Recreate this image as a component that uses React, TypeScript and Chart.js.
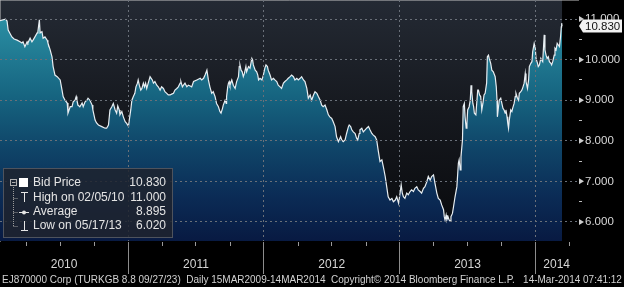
import React, { useEffect, useRef } from 'react';
import { Chart, registerables } from 'chart.js';

Chart.register(...registerables);

const dates: string[] = [
  '2010-01-21','2010-02-05','2010-02-09','2010-02-12','2010-02-22','2010-02-28','2010-03-08','2010-03-16','2010-03-21','2010-03-24',
  '2010-03-29','2010-04-04','2010-04-06','2010-04-12','2010-04-17','2010-04-20','2010-04-25','2010-05-01','2010-05-03','2010-05-07',
  '2010-05-09','2010-05-14','2010-05-17','2010-05-22','2010-05-28','2010-05-30','2010-06-05','2010-06-10','2010-06-13','2010-06-18',
  '2010-06-24','2010-07-02','2010-07-07','2010-07-10','2010-07-15','2010-07-21','2010-07-23','2010-07-29','2010-08-03','2010-08-06',
  '2010-08-11','2010-08-14','2010-08-16','2010-08-19','2010-08-24','2010-08-30','2010-09-02','2010-09-07','2010-09-12','2010-09-15',
  '2010-09-20','2010-09-26','2010-09-28','2010-10-04','2010-10-08','2010-10-13','2010-10-22','2010-10-31','2010-11-04','2010-11-09',
  '2010-11-13','2010-11-18','2010-11-22','2010-11-27','2010-12-01','2010-12-04','2010-12-08','2010-12-10','2010-12-15','2010-12-19',
  '2010-12-24','2010-12-28',
  '2011-01-02','2011-01-04','2011-01-08','2011-01-11','2011-01-15','2011-01-19','2011-01-22','2011-01-26','2011-01-28','2011-01-31',
  '2011-02-04','2011-02-07','2011-02-11','2011-02-14','2011-02-17','2011-02-20','2011-02-24','2011-03-01','2011-03-04','2011-03-07',
  '2011-03-10','2011-03-14','2011-03-19','2011-03-23','2011-03-28','2011-04-01','2011-04-06','2011-04-10','2011-04-15','2011-04-19',
  '2011-04-24','2011-04-28','2011-05-03','2011-05-07','2011-05-12','2011-05-16','2011-05-21','2011-05-23','2011-05-27','2011-05-30',
  '2011-06-03','2011-06-08','2011-06-12','2011-06-17','2011-06-21','2011-06-26','2011-07-05','2011-07-14','2011-07-18','2011-07-23',
  '2011-07-27','2011-08-01','2011-08-05','2011-08-09','2011-08-14','2011-08-18','2011-08-23','2011-08-27','2011-09-01','2011-09-05',
  '2011-09-08','2011-09-12','2011-09-14','2011-09-19','2011-09-22','2011-09-23','2011-09-26','2011-09-28','2011-09-30','2011-10-02',
  '2011-10-07','2011-10-11','2011-10-16','2011-10-20','2011-10-25','2011-10-27','2011-10-29','2011-11-01','2011-11-04','2011-11-07',
  '2011-11-10','2011-11-14','2011-11-16','2011-11-21','2011-11-25','2011-11-30','2011-12-02','2011-12-04','2011-12-09','2011-12-13',
  '2011-12-16','2011-12-18','2011-12-22','2011-12-27','2011-12-31',
  '2012-01-04','2012-01-07','2012-01-11','2012-01-13','2012-01-18','2012-01-22','2012-01-27','2012-01-31','2012-02-05','2012-02-09',
  '2012-02-14','2012-02-18','2012-02-23','2012-02-27','2012-03-03','2012-03-07','2012-03-12','2012-03-16','2012-03-21','2012-03-25',
  '2012-03-30','2012-04-03','2012-04-08','2012-04-12','2012-04-17','2012-04-21','2012-04-26','2012-04-30','2012-05-05','2012-05-09',
  '2012-05-14','2012-05-18','2012-05-23','2012-05-27','2012-06-01','2012-06-05','2012-06-09','2012-06-14','2012-06-19','2012-06-23',
  '2012-06-27','2012-07-02','2012-07-06','2012-07-11','2012-07-15','2012-07-20','2012-07-22','2012-07-26','2012-07-29','2012-08-02',
  '2012-08-07','2012-08-11','2012-08-16','2012-08-18','2012-08-22','2012-08-25','2012-08-29','2012-09-03','2012-09-07','2012-09-10',
  '2012-09-14','2012-09-16','2012-09-21','2012-09-25','2012-09-30','2012-10-04','2012-10-09','2012-10-13','2012-10-18','2012-10-22',
  '2012-10-27','2012-10-31','2012-11-04','2012-11-09','2012-11-14','2012-11-18','2012-11-23','2012-11-27','2012-12-01','2012-12-06',
  '2012-12-11','2012-12-15','2012-12-20','2012-12-24','2012-12-29',
  '2013-01-02','2013-01-05','2013-01-08','2013-01-11','2013-01-15','2013-01-20','2013-01-24','2013-01-29','2013-02-02','2013-02-07',
  '2013-02-11','2013-02-16','2013-02-20','2013-02-25','2013-03-01','2013-03-06','2013-03-10','2013-03-15','2013-03-19','2013-03-24',
  '2013-03-28','2013-04-02','2013-04-06','2013-04-11','2013-04-15','2013-04-20','2013-04-24','2013-04-29','2013-05-01','2013-05-03',
  '2013-05-06','2013-05-08','2013-05-11','2013-05-14','2013-05-17','2013-05-19','2013-05-23','2013-05-26','2013-05-30','2013-06-04',
  '2013-06-08','2013-06-10','2013-06-13','2013-06-15','2013-06-19','2013-06-21','2013-06-24','2013-06-26','2013-06-29','2013-07-01',
  '2013-07-03','2013-07-07','2013-07-10','2013-07-12','2013-07-14','2013-07-17','2013-07-19','2013-07-21','2013-07-25','2013-07-28',
  '2013-07-30','2013-08-01','2013-08-04','2013-08-07','2013-08-10','2013-08-13','2013-08-16','2013-08-19','2013-08-23','2013-08-25',
  '2013-08-28','2013-08-30','2013-09-03','2013-09-06','2013-09-10','2013-09-15','2013-09-18','2013-09-20','2013-09-21','2013-09-24',
  '2013-09-26','2013-09-30','2013-10-03','2013-10-06','2013-10-09','2013-10-12','2013-10-14','2013-10-17','2013-10-19','2013-10-21',
  '2013-10-23','2013-10-27','2013-10-30','2013-11-01','2013-11-05','2013-11-08','2013-11-10','2013-11-14','2013-11-17','2013-11-19',
  '2013-11-23','2013-11-26','2013-11-29','2013-12-02','2013-12-05','2013-12-07','2013-12-11','2013-12-14','2013-12-16','2013-12-20',
  '2013-12-23','2013-12-25','2013-12-29',
  '2014-01-01','2014-01-03','2014-01-07','2014-01-09','2014-01-12','2014-01-16','2014-01-18','2014-01-21','2014-01-25','2014-01-27',
  '2014-01-30','2014-02-02','2014-02-05','2014-02-08','2014-02-12','2014-02-14','2014-02-17','2014-02-21','2014-02-23','2014-02-26',
  '2014-03-01','2014-03-04','2014-03-07','2014-03-10','2014-03-12','2014-03-13','2014-03-14',
];

const values: number[] = [
  10.96,11.00,10.95,10.73,10.56,10.51,10.48,10.44,10.41,10.44,
  10.32,10.44,10.41,10.53,10.44,10.48,10.56,10.66,10.69,10.98,
  10.66,10.69,10.53,10.56,10.48,10.41,10.24,10.07,9.83,9.62,
  9.58,9.50,9.25,9.09,9.00,8.93,8.68,8.84,8.84,8.96,
  9.00,9.09,9.00,8.88,8.84,8.93,8.84,8.96,9.00,9.05,
  9.00,8.88,8.76,8.51,8.44,8.39,8.35,8.31,8.31,8.39,
  8.76,8.84,8.92,8.76,8.68,8.86,8.76,8.64,8.72,8.59,
  8.47,8.43,
  8.36,8.51,8.76,9.00,9.09,9.17,9.33,9.42,9.50,9.37,
  9.25,9.29,9.42,9.33,9.42,9.29,9.42,9.58,9.54,9.50,
  9.42,9.46,9.37,9.33,9.25,9.33,9.29,9.21,9.17,9.13,
  9.13,9.15,9.17,9.25,9.29,9.33,9.42,9.46,9.33,9.37,
  9.42,9.33,9.37,9.35,9.33,9.46,9.50,9.54,9.50,9.54,
  9.62,9.74,9.50,9.33,9.17,9.21,9.09,8.92,8.84,8.72,
  8.68,8.80,8.88,9.00,8.92,9.09,9.33,9.42,9.46,9.37,
  9.50,9.37,9.29,9.46,9.58,9.83,9.87,9.74,9.70,9.58,
  9.66,9.83,9.70,9.83,9.79,10.03,9.99,9.87,9.74,9.70,
  9.62,9.50,9.54,9.50,9.62,
  9.79,9.87,9.83,9.74,9.62,9.50,9.54,9.50,9.46,9.37,
  9.33,9.29,9.42,9.46,9.50,9.54,9.58,9.62,9.58,9.50,
  9.54,9.50,9.54,9.58,9.50,9.46,9.29,9.05,9.13,9.00,
  9.13,9.21,9.17,9.09,9.00,8.88,8.84,8.88,8.76,8.64,
  8.59,8.55,8.47,8.35,8.10,7.98,8.02,8.10,8.02,7.98,
  8.02,8.18,8.35,8.39,8.35,8.27,8.22,8.18,8.06,8.02,
  8.18,8.27,8.31,8.22,8.27,8.31,8.35,8.27,8.18,8.14,
  8.10,8.02,7.77,7.49,7.53,7.36,7.12,6.87,6.62,6.54,
  6.58,6.50,6.54,6.62,6.46,
  6.71,6.91,6.71,6.62,6.58,6.71,6.67,6.75,6.79,6.75,
  6.83,6.87,6.79,6.75,6.71,6.83,6.87,6.99,7.12,7.03,
  7.12,7.16,6.95,6.71,6.58,6.54,6.42,6.30,6.13,6.05,
  6.17,6.05,6.13,6.05,6.02,6.13,6.21,6.38,6.62,6.87,
  7.45,7.53,7.28,7.61,8.02,8.84,8.92,8.59,8.31,8.43,
  8.76,8.84,9.00,9.37,9.21,8.92,8.84,8.68,8.64,9.00,
  9.25,9.25,9.13,9.09,8.76,8.92,9.13,9.17,9.42,10.07,
  10.11,10.03,9.91,9.74,9.70,9.58,9.33,9.00,8.59,8.84,
  9.00,9.05,8.92,8.80,8.76,8.68,8.76,8.59,8.43,8.31,
  8.51,8.76,8.72,8.80,8.92,9.09,9.17,9.05,9.00,9.17,
  9.21,9.25,9.33,9.42,9.66,9.46,9.29,9.50,9.83,9.91,
  9.95,10.19,10.40,
  10.28,10.03,9.91,9.83,9.87,10.03,9.99,9.95,10.61,10.24,
  10.11,10.03,10.07,9.95,9.91,9.87,9.95,10.11,10.28,10.24,
  10.40,10.36,10.32,10.56,10.81,10.90,10.83,
];

const yearStarts: string[] = ['2011-01-01', '2012-01-01', '2013-01-01', '2014-01-01'];
const yearLabels: string[] = ['2010', '2011', '2012', '2013', '2014'];
const quarterTicks: string[] = [
  '2010-04-01', '2010-07-01', '2010-10-01',
  '2011-04-01', '2011-07-01', '2011-10-01',
  '2012-04-01', '2012-07-01', '2012-10-01',
  '2013-04-01', '2013-07-01', '2013-10-01',
  '2014-04-01',
];
const yTicks: number[] = [6, 6.5, 7, 7.5, 8, 8.5, 9, 9.5, 10, 10.5, 11];
const X_MIN = '2010-01-21';
const X_MAX = '2014-04-26';
const Y_MIN = 5.53;
const Y_MAX = 11.47;

const legendLabels: string[] = ['Bid Price', 'High on 02/05/10', 'Average', 'Low on 05/17/13'];
const legendValues: string[] = ['10.830', '11.000', '8.895', '6.020'];
const lastPrice = 10.83;
const lastPriceLabel = '10.830';
const footerText =
  'EJ870000 Corp (TURKGB 8.8 09/27/23)  Daily 15MAR2009-14MAR2014  Copyright\u00A9 2014 Bloomberg Finance L.P.   14-Mar-2014 07:41:12';

const FONT = '"Liberation Sans", Arial, sans-serif';

const decorPlugin = {
  id: 'decor',
  beforeDraw(chart: any) {
    const { ctx, chartArea: ca, scales } = chart;
    ctx.save();
    ctx.fillStyle = '#000000';
    ctx.fillRect(0, 0, chart.width, chart.height);
    const lastX = scales.x.getPixelForValue(Date.parse(dates[dates.length - 1]));
    const g = ctx.createLinearGradient(0, ca.top, 0, ca.bottom);
    g.addColorStop(0, '#242a34');
    g.addColorStop(0.45, '#16191f');
    g.addColorStop(1, '#08090c');
    ctx.fillStyle = g;
    ctx.fillRect(ca.left, ca.top, lastX - ca.left, ca.bottom - ca.top);
    ctx.restore();
  },
  afterDraw(chart: any) {
    const { ctx, chartArea: ca, scales } = chart;
    const xs = scales.x;
    const ys = scales.y;
    ctx.save();

    // quarterly minor ticks on the x axis
    ctx.strokeStyle = '#9a9a9a';
    ctx.lineWidth = 1;
    quarterTicks.forEach((d) => {
      const px = Math.round(xs.getPixelForValue(Date.parse(d))) + 0.5;
      if (px < ca.left || px > ca.right) return;
      ctx.beginPath();
      ctx.moveTo(px, ca.bottom + 1);
      ctx.lineTo(px, ca.bottom + 5);
      ctx.stroke();
    });

    // year labels centred in the visible part of each year
    const bounds = [ca.left, ...yearStarts.map((d) => xs.getPixelForValue(Date.parse(d))), ca.right];
    ctx.fillStyle = '#d6d6d6';
    ctx.font = `12px ${FONT}`;
    ctx.textAlign = 'center';
    ctx.textBaseline = 'middle';
    yearLabels.forEach((lab, i) => {
      ctx.fillText(lab, (bounds[i] + bounds[i + 1]) / 2, 265);
    });

    // footer line
    ctx.textAlign = 'left';
    ctx.font = `10px ${FONT}`;
    const w = ctx.measureText(footerText).width;
    const size = (10 * 620) / w;
    ctx.font = `${size.toFixed(2)}px ${FONT}`;
    ctx.fillStyle = '#d2d2d2';
    ctx.fillText(footerText, 2, 280);

    // pointer triangles for major y ticks
    ctx.fillStyle = '#cfcfcf';
    yTicks.forEach((v) => {
      if (!Number.isInteger(v)) return;
      const py = ys.getPixelForValue(v);
      ctx.beginPath();
      ctx.moveTo(ca.right + 1, py - 3);
      ctx.lineTo(ca.right + 6, py);
      ctx.lineTo(ca.right + 1, py + 3);
      ctx.closePath();
      ctx.fill();
    });

    // last price label
    const py = ys.getPixelForValue(lastPrice);
    ctx.beginPath();
    ctx.moveTo(ca.right + 1, py);
    ctx.lineTo(ca.right + 5, py - 6.5);
    ctx.lineTo(chart.width - 2, py - 6.5);
    ctx.lineTo(chart.width - 2, py + 6.5);
    ctx.lineTo(ca.right + 5, py + 6.5);
    ctx.closePath();
    ctx.fillStyle = '#f2f2f2';
    ctx.fill();
    ctx.fillStyle = '#111111';
    ctx.font = `11.5px ${FONT}`;
    ctx.textBaseline = 'middle';
    ctx.fillText(lastPriceLabel, ca.right + 7, py + 0.5);

    // legend box
    const bx = 3.5, by = 168.5, bw = 169, bh = 69;
    ctx.fillStyle = 'rgba(30,35,46,0.85)';
    ctx.fillRect(bx, by, bw, bh);
    ctx.strokeStyle = '#4e535d';
    ctx.lineWidth = 1;
    ctx.strokeRect(bx, by, bw, bh);

    const rows = [183, 197.5, 212, 226];
    // tree lines
    ctx.strokeStyle = '#9a9a9a';
    ctx.setLineDash([1, 1]);
    ctx.beginPath();
    ctx.moveTo(13.5, 187);
    ctx.lineTo(13.5, rows[3]);
    [rows[1], rows[2], rows[3]].forEach((ry) => {
      ctx.moveTo(13.5, Math.round(ry) + 0.5);
      ctx.lineTo(18, Math.round(ry) + 0.5);
    });
    ctx.stroke();
    ctx.setLineDash([]);
    // collapse box
    ctx.strokeStyle = '#b0b0b0';
    ctx.strokeRect(10.5, 179.5, 6, 6);
    ctx.beginPath();
    ctx.moveTo(12, 182.5);
    ctx.lineTo(15.5, 182.5);
    ctx.stroke();
    // white square
    ctx.fillStyle = '#ffffff';
    ctx.fillRect(19, 178, 9, 9);
    // icons
    ctx.strokeStyle = '#e6e6e6';
    ctx.fillStyle = '#e6e6e6';
    ctx.lineWidth = 1;
    ctx.beginPath();
    ctx.moveTo(21, 192.5); ctx.lineTo(28, 192.5);
    ctx.moveTo(24.5, 192.5); ctx.lineTo(24.5, 202);
    ctx.moveTo(19, 212.5); ctx.lineTo(29, 212.5);
    ctx.moveTo(24.5, 221); ctx.lineTo(24.5, 230.5);
    ctx.moveTo(21, 230.5); ctx.lineTo(28, 230.5);
    ctx.stroke();
    ctx.beginPath();
    ctx.arc(24, 212.5, 2, 0, Math.PI * 2);
    ctx.fill();

    ctx.font = `12px ${FONT}`;
    ctx.fillStyle = '#e4e4e4';
    ctx.textBaseline = 'middle';
    legendLabels.forEach((lab, i) => {
      ctx.textAlign = 'left';
      ctx.fillText(lab, 33, rows[i]);
      ctx.textAlign = 'right';
      ctx.fillText(legendValues[i], 166, rows[i]);
    });

    ctx.restore();
  },
};

export default function App() {
  const canvasRef = useRef<HTMLCanvasElement | null>(null);

  useEffect(() => {
    document.body.style.margin = '0';
    document.body.style.background = '#000';
    const canvas = canvasRef.current;
    if (!canvas) return;

    const chart = new Chart(canvas, {
      type: 'line',
      data: {
        datasets: [
          {
            data: dates.map((d, i) => ({ x: Date.parse(d), y: values[i] })),
            borderColor: '#e8eef2',
            borderWidth: 1.2,
            pointRadius: 0,
            tension: 0,
            fill: 'start',
            backgroundColor: (c: any) => {
              const ca = c.chart.chartArea;
              if (!ca) return 'rgba(0,0,0,0)';
              const g = c.chart.ctx.createLinearGradient(0, ca.top, 0, ca.bottom);
              g.addColorStop(0, '#35a0b4');
              g.addColorStop(0.08, '#2a8ea3');
              g.addColorStop(0.4, '#166480');
              g.addColorStop(0.62, '#0f4468');
              g.addColorStop(0.82, '#0b2b55');
              g.addColorStop(1, '#081a42');
              return g;
            },
          },
        ],
      },
      options: {
        responsive: false,
        animation: false,
        devicePixelRatio: 1,
        layout: { padding: 0 },
        plugins: {
          legend: { display: false },
          tooltip: { enabled: false },
        },
        scales: {
          x: {
            type: 'linear',
            min: Date.parse(X_MIN),
            max: Date.parse(X_MAX),
            afterBuildTicks: (axis: any) => {
              axis.ticks = yearStarts.map((d) => ({ value: Date.parse(d) }));
            },
            afterFit: (axis: any) => {
              axis.height = 46;
              axis.paddingLeft = 0;
              axis.paddingRight = 0;
            },
            ticks: { display: false },
            grid: {
              color: '#6a7079',
              lineWidth: 1,
              drawTicks: true,
              tickLength: 33,
              tickColor: '#8c8c8c',
              tickWidth: 1,
              z: 1,
            },
            border: { display: true, color: '#c4c4c4', width: 1, dash: [2, 3] },
          },
          y: {
            position: 'right',
            min: Y_MIN,
            max: Y_MAX,
            afterBuildTicks: (axis: any) => {
              axis.ticks = yTicks.map((v) => ({ value: v }));
            },
            afterFit: (axis: any) => {
              axis.width = 46;
              axis.paddingTop = 0;
              axis.paddingBottom = 0;
            },
            ticks: {
              autoSkip: false,
              color: '#d8d8d8',
              font: { family: FONT, size: 11.5 },
              padding: 3,
              callback: (v: any) => (Number.isInteger(v) ? Number(v).toFixed(3) : ''),
            },
            grid: {
              color: (c: any) => (c.tick && Number.isInteger(c.tick.value) ? '#6a7079' : 'rgba(0,0,0,0)'),
              tickColor: '#bdbdbd',
              tickLength: 4,
              z: 1,
            },
            border: { display: true, color: '#c4c4c4', width: 1, dash: [2, 3] },
          },
        },
      },
      plugins: [decorPlugin],
    });

    return () => chart.destroy();
  }, []);

  return (
    <div style={{ width: 624, height: 287, background: '#000' }}>
      <canvas ref={canvasRef} width={624} height={287} style={{ display: 'block' }} />
    </div>
  );
}
